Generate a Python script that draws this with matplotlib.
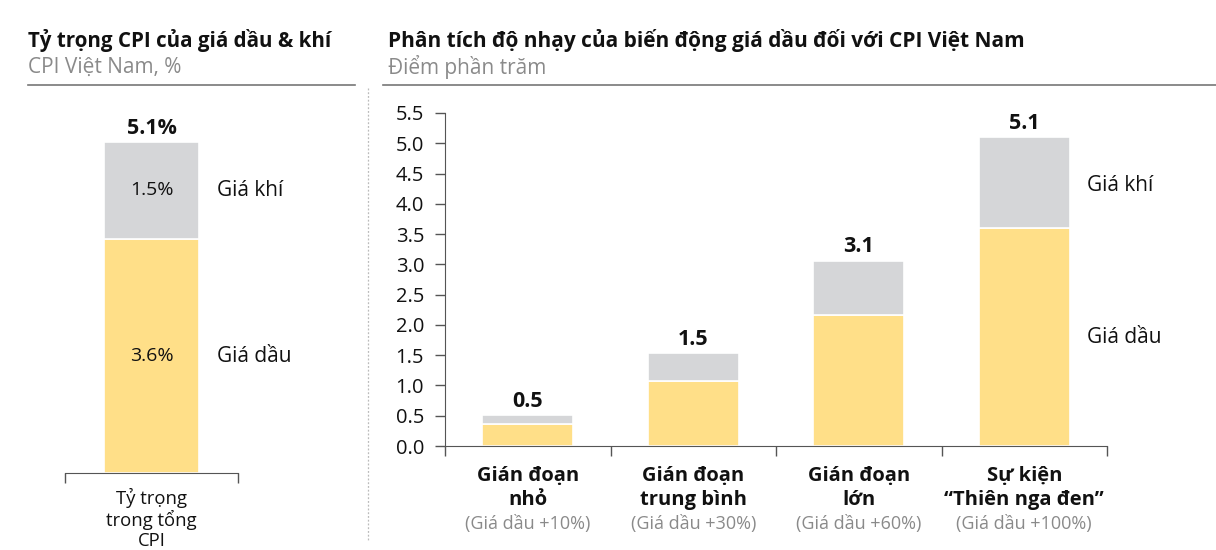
import matplotlib
matplotlib.use("Agg")
import matplotlib.pyplot as plt
from matplotlib.lines import Line2D

plt.rcParams['font.family'] = ['Open Sans', 'DejaVu Sans']

# ---------------- data ----------------
left_category = "Tỷ trọng\ntrong tổng\nCPI"
left_oil = 3.6
left_gas = 1.5
left_total_label = "5.1%"
left_oil_label = "3.6%"
left_gas_label = "1.5%"

categories = ["Gián đoạn\nnhỏ", "Gián đoạn\ntrung bình", "Gián đoạn\nlớn", "Sự kiện\n“Thiên nga đen”"]
scenarios = ["(Giá dầu +10%)", "(Giá dầu +30%)", "(Giá dầu +60%)", "(Giá dầu +100%)"]
oil_values = [0.36, 1.08, 2.16, 3.6]
gas_values = [0.15, 0.45, 0.90, 1.5]
total_labels = ["0.5", "1.5", "3.1", "5.1"]
yticks = [0.0, 0.5, 1.0, 1.5, 2.0, 2.5, 3.0, 3.5, 4.0, 4.5, 5.0, 5.5]

series_names = ["Giá dầu", "Giá khí"]

YELLOW = "#FFDF88"
GRAY = "#D5D6D8"
AXC = "#555555"
TXT = "#111111"
SUB = "#8a8a8a"

W, H = 1216, 550
fig = plt.figure(figsize=(W / 100, H / 100), dpi=100)


def fx(x):
    return x / W


def fy(y):
    return 1 - y / H


def ax_rect(x0, y0, x1, y1):
    return [fx(x0), fy(y1), (x1 - x0) / W, (y1 - y0) / H]


# ---------------- headers ----------------
fig.text(fx(28), fy(40), "Tỷ trọng CPI của giá dầu & khí", fontsize=14.8, fontweight="bold",
         color=TXT, va="center", ha="left")
fig.text(fx(28), fy(67), "CPI Việt Nam, %", fontsize=15, color=SUB, va="center", ha="left")
fig.text(fx(388), fy(40), "Phân tích độ nhạy của biến động giá dầu đối với CPI Việt Nam", fontsize=15,
         fontweight="bold", color=TXT, va="center", ha="left")
fig.text(fx(388), fy(67), "Điểm phần trăm", fontsize=15, color=SUB, va="center", ha="left")

fig.add_artist(Line2D([fx(28), fx(355)], [fy(85), fy(85)], color="#777777", lw=1.2))
fig.add_artist(Line2D([fx(383), fx(1216)], [fy(85), fy(85)], color="#777777", lw=1.2))
fig.add_artist(Line2D([fx(368), fx(368)], [fy(88), fy(540)], color="#bbbbbb", lw=0.9,
                      linestyle=(0, (1.5, 1.5))))

# ---------------- left chart ----------------
L_TOP, L_BOT = 113, 473
axL = fig.add_axes(ax_rect(65, L_TOP, 238, L_BOT))
axL.set_xlim(-0.5, 0.5)
axL.set_ylim(0, (L_BOT - L_TOP) / 65)
bw = 95 / 173
axL.bar(0, left_oil, width=bw, color=YELLOW, edgecolor="white", linewidth=1.2)
axL.bar(0, left_gas, width=bw, bottom=left_oil, color=GRAY, edgecolor="white", linewidth=1.2)
axL.text(0, left_oil + left_gas + 0.2, left_total_label, ha="center", va="center", fontsize=15.5,
         fontweight="bold", color=TXT)
axL.text(0, left_oil / 2, left_oil_label, ha="center", va="center", fontsize=14, color=TXT)
axL.text(0, left_oil + left_gas / 2, left_gas_label, ha="center", va="center", fontsize=14, color=TXT)
axL.text(0.379, left_oil + left_gas / 2, series_names[1], ha="left", va="center",
         fontsize=15, color=TXT)
axL.text(0.379, left_oil / 2, series_names[0], ha="left", va="center",
         fontsize=15, color=TXT)
for s in ["top", "right", "left"]:
    axL.spines[s].set_visible(False)
axL.spines["bottom"].set_color(AXC)
axL.set_yticks([])
axL.set_xticks([-0.5, 0.5])
axL.set_xticklabels([])
axL.tick_params(axis="x", direction="out", length=7, color=AXC, width=1)
trL = axL.get_xaxis_transform()
for k, line in enumerate(left_category.split("\n")):
    ypix = 498 + 21.5 * k
    axL.text(0, (L_BOT - ypix) / (L_BOT - L_TOP), line, ha="center", va="center", fontsize=13.3,
             color=TXT, transform=trL)

# ---------------- right chart ----------------
R_TOP, R_BOT = 113, 446
axR = fig.add_axes(ax_rect(445, R_TOP, 1107, R_BOT))
n = len(categories)
xs = list(range(n))
axR.set_xlim(-0.5, n - 0.5)
axR.set_ylim(0, 5.5)
bwr = 91 / 165.5
axR.bar(xs, oil_values, width=bwr, color=YELLOW, edgecolor="white", linewidth=1.2)
axR.bar(xs, gas_values, width=bwr, bottom=oil_values, color=GRAY, edgecolor="white", linewidth=1.2)
trR = axR.get_xaxis_transform()
for i in xs:
    tot = oil_values[i] + gas_values[i]
    axR.text(i, tot + 0.23, total_labels[i], ha="center", va="center", fontsize=15.5,
             fontweight="bold", color=TXT)
    for k, line in enumerate(categories[i].split("\n")):
        ypix = 476 + 24 * k
        axR.text(i, (R_BOT - ypix) / (R_BOT - R_TOP), line, ha="center", va="center", fontsize=14.5,
                 fontweight="bold", color=TXT, transform=trR)
    axR.text(i, (R_BOT - 524) / (R_BOT - R_TOP), scenarios[i], ha="center", va="center",
             fontsize=13, color=SUB, transform=trR)

axR.text(3.379, 4.31, series_names[1], ha="left", va="center", fontsize=15, color=TXT)
axR.text(3.379, 1.785, series_names[0], ha="left", va="center", fontsize=15, color=TXT)

for s in ["top", "right"]:
    axR.spines[s].set_visible(False)
axR.spines["left"].set_color(AXC)
axR.spines["bottom"].set_color(AXC)
axR.set_yticks(yticks)
axR.set_yticklabels([f"{v:.1f}" for v in yticks], fontsize=14.5, color=TXT)
axR.tick_params(axis="y", direction="out", length=7, color=AXC, width=1, pad=8)
axR.set_xticks([i - 0.5 for i in range(n + 1)])
axR.set_xticklabels([])
axR.tick_params(axis="x", direction="out", length=7, color=AXC, width=1)

fig.savefig("out.png", dpi=100)
